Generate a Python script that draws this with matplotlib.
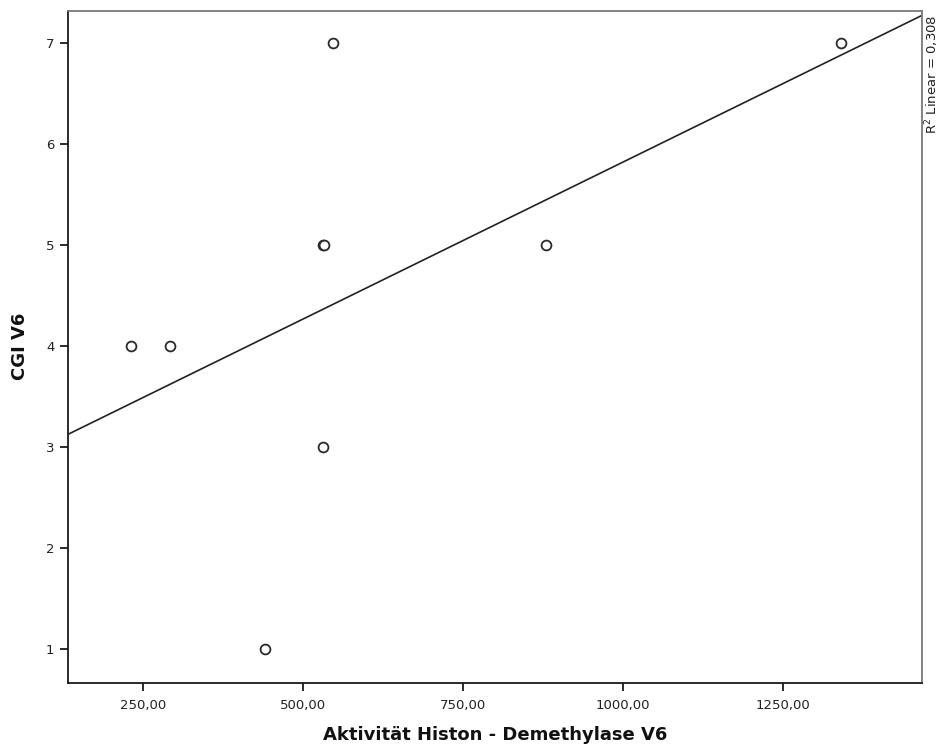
import numpy as np
import matplotlib
matplotlib.use("Agg")
import matplotlib.pyplot as plt
from matplotlib.ticker import FuncFormatter

# Data
activity = [232, 293, 441, 531, 533, 531, 547, 880, 1340]
cgi = [4, 4, 1, 5, 5, 3, 7, 5, 7]
x_ticks = [250, 500, 750, 1000, 1250]
y_ticks = [1, 2, 3, 4, 5, 6, 7]
x_label = "Aktivität Histon - Demethylase V6"
y_label = "CGI V6"

plt.rcParams['font.family'] = ['DejaVu Sans']

fig = plt.figure(figsize=(9.47, 7.53), dpi=100)
ax = fig.add_axes([0.0721, 0.0934, 0.9015, 0.8924])

x = np.array(activity, dtype=float)
y = np.array(cgi, dtype=float)
ax.scatter(x, y, s=50, facecolors='white', edgecolors='#2a2a2a', linewidths=1.3, zorder=3)

xlim = (133.7, 1466.7)
ylim = (0.67, 7.323)
slope, intercept = np.polyfit(x, y, 1)
r2 = np.corrcoef(x, y)[0, 1] ** 2
xs = np.array(xlim)
ax.plot(xs, slope * xs + intercept, color='#222222', lw=1.2, zorder=2, clip_on=True)

ax.set_xlim(*xlim)
ax.set_ylim(*ylim)
ax.set_xticks(x_ticks)
ax.set_yticks(y_ticks)
ax.xaxis.set_major_formatter(FuncFormatter(lambda v, p: f"{v:.2f}".replace('.', ',')))
ax.yaxis.set_major_formatter(FuncFormatter(lambda v, p: f"{int(v)}"))

for side in ['left', 'bottom']:
    ax.spines[side].set_color('#1a1a1a')
    ax.spines[side].set_linewidth(1.3)
for side in ['top', 'right']:
    ax.spines[side].set_color('#7a7a7a')
    ax.spines[side].set_linewidth(1.3)

ax.tick_params(axis='both', direction='out', length=6, width=1.3, color='#1a1a1a',
               labelsize=9.5, labelcolor='#222222')
ax.tick_params(axis='x', pad=6)
ax.tick_params(axis='y', pad=4)

ax.set_xlabel(x_label, fontsize=13, fontweight='bold', color='#111111', labelpad=10)
ax.set_ylabel(y_label, fontsize=13, fontweight='bold', color='#111111', labelpad=12)

r2_text = "R$^2$ Linear = " + f"{r2:.3f}".replace('.', ',')
ax.text(1.0 + 10 / 853, 1.0 - 4 / 672, r2_text, transform=ax.transAxes, rotation=90,
        ha='center', va='top', fontsize=9.5, color='#222222')

fig.savefig("out.png", dpi=100)
